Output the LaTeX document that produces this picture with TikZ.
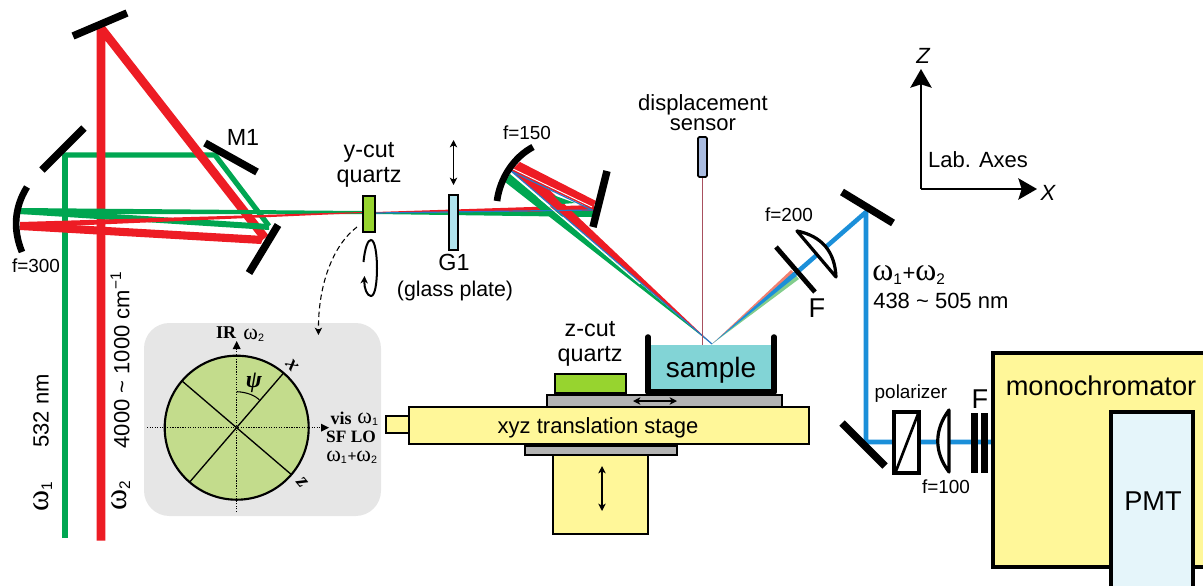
\documentclass[tikz,border=0pt]{standalone}
\usepackage{fontspec}
\setmainfont{Liberation Sans}
\newfontfamily\symfont{Liberation Serif}
\newfontfamily\omfont[Scale=1.45]{Liberation Serif}
\usetikzlibrary{arrows.meta}
\newcommand{\wone}{{\omfont ω}\textsubscript{1}}
\newcommand{\wtwo}{{\omfont ω}\textsubscript{2}}
\begin{document}
\begin{tikzpicture}[x=0.75pt,y=0.75pt,yscale=-1,xscale=1,
  mirror/.style={line width=5.6pt},
  curved/.style={line width=5pt},
  redbeam/.style={color={rgb, 255:red, 237; green, 28; blue, 36 },line width=6.5pt,line join=bevel},
  greenbeam/.style={color={rgb, 255:red, 0; green, 166; blue, 81 },line width=3.9pt},
  bluebeam/.style={color={rgb, 255:red, 27; green, 143; blue, 217 },line width=3.4pt},
  redfill/.style={fill={rgb, 255:red, 237; green, 28; blue, 36 }},
  greenfill/.style={fill={rgb, 255:red, 0; green, 166; blue, 81 }},
  bluefill/.style={fill={rgb, 255:red, 27; green, 143; blue, 217 }},
  thinblue/.style={color={rgb, 255:red, 40; green, 120; blue, 200 },line width=0.9pt},
  yellowbox/.style={draw,line width=1.3pt,fill={rgb, 255:red, 255; green, 247; blue, 153 }},
  greybox/.style={draw,line width=1.3pt,fill={rgb, 255:red, 179; green, 179; blue, 179 }},
  quartzbox/.style={draw,line width=1.6pt,fill={rgb, 255:red, 151; green, 212; blue, 47 }},
  dotaxis/.style={densely dotted,line width=0.9pt},
  smallhead/.style={>={Stealth[length=5.5pt,width=5.5pt,inset=1.5pt]}},
  bighead/.style={>={Stealth[length=14pt,width=16pt,inset=2.5pt]}},
  lbl/.style={inner sep=0.75pt,align=center},
  big/.style={font=\fontsize{20.4}{22}\selectfont},
  mid/.style={font=\fontsize{16.5}{18}\selectfont},
  large/.style={font=\fontsize{17.5}{18.7}\selectfont},
  small/.style={font=\fontsize{14.2}{16}\selectfont},
  inset/.style={font=\fontsize{13.5}{14}\selectfont\symfont\bfseries},
  insetom/.style={font=\fontsize{11.5}{12}\selectfont}
]
\useasboundingbox (0,0) rectangle (1203,586);

%Filled panel behind the wave plate
\draw  [fill={rgb, 255:red, 230; green, 230; blue, 230 },draw=none,rounded corners=19pt] (144,323) rectangle (381,516) ;

%Straight Lines: incoming beams
\draw [greenbeam,line width=5pt]  (65,538) -- (65,155) ;
\draw [greenbeam,line join=bevel]  (63,155) -- (215,155) -- (269,226) ;
\draw [redbeam]  (101,540.5) -- (101,28) -- (265,238) ;
%Beams between the concave mirror and the quartz
\draw [greenfill,draw=none]  (20,208) -- (269,224) -- (269,230) -- (20,214) -- cycle ;
\draw [greenfill,draw=none]  (20,208) -- (362,211) -- (362,214) -- (20,214) -- cycle ;
\draw [redfill,draw=none]  (20,222) -- (362,212) -- (362,213) -- (20,228) -- cycle ;
\draw [redfill,draw=none]  (20,222) -- (264,236) -- (261,244) -- (20,230) -- cycle ;

%Beams from the quartz to the flat mirror
\draw [redfill,draw=none]  (375,212) -- (594,205) -- (594,212) -- (375,213) -- cycle ;
\draw [greenfill,draw=none]  (375,213) -- (594,211) -- (594,217) -- (375,214) -- cycle ;
%Beams from the concave mirror down to the sample
\draw [greenfill,draw=none]  (510,174) -- (712,344) -- (505,182) -- cycle ;
\draw [redfill,draw=none]  (520,162) -- (712,344) -- (511,171) -- cycle ;
%Beams between the flat mirror and the concave mirror
\draw [redfill,draw=none]  (520,162) -- (596,201) -- (592,209) -- (511,171) -- cycle ;
\draw [greenfill,draw=none]  (553,195) -- (575,203) -- (562,204) -- cycle ;
%Thin blue core
\draw [thinblue]  (375,213) -- (592,210) -- (511,171) -- (712,344) ;
\draw [color=white,line width=0.7pt]  (513,169) -- (592,207) ;
\draw [color=white,line width=0.7pt]  (538,197) -- (640,284) ;

%Sensor beam
\draw [color={rgb, 255:red, 168; green, 80; blue, 94 },line width=1.4pt]  (702.5,177) -- (702.5,345) ;
%Beam leaving the sample
\draw [fill={rgb, 255:red, 242; green, 128; blue, 112 },draw=none]  (712,344) -- (791,270) -- (795,274) -- cycle ;
\draw [fill={rgb, 255:red, 130; green, 205; blue, 140 },draw=none]  (712,344) -- (795,274) -- (799,279) -- cycle ;
\draw [bluefill,draw=none]  (712,344) -- (793.5,272) -- (796.5,276) -- cycle ;
\draw [bluebeam]  (795,274) -- (866,212) -- (866,442) -- (993,442) ;

%Flat mirrors
\draw [mirror]  (73,36) -- (127,13) ;
\draw [mirror]  (42,170) -- (84,128) ;
\draw [mirror]  (205,143) -- (257,172) ;
\draw [mirror]  (278,225) -- (249,273) ;
\draw [mirror]  (607,171) -- (593,227) ;
\draw [mirror]  (842,192) -- (893,223) ;
\draw [mirror]  (842,423) -- (885,466) ;
%Concave mirrors
\draw [curved]  (27,187) .. controls (14,208) and (13,230) .. (22,252) ;
\draw [curved]  (533,147) .. controls (514,157) and (500,178) .. (497,201) ;

%Quartz and glass plate
\draw [quartzbox]  (363,196) rectangle (375,232) ;
\draw [draw,line width=1.6pt,fill={rgb, 255:red, 176; green, 228; blue, 238 }]  (449,195) rectangle (458,250) ;
%Arrow above the glass plate
\draw [smallhead,<->,line width=1pt]  (453.5,140) -- (453.5,185) ;
%Rotation arrow
\draw [smallhead,->,line width=1.5pt]  (363.5,262) .. controls (365,247) and (368,240) .. (371,240) .. controls (375,240) and (377,255) .. (377,268) .. controls (377,283) and (375,296) .. (371,296) .. controls (367,296) and (364,288) .. (364.5,276) ;
%Dashed curve to the panel
\draw [smallhead,->,dash pattern={on 4pt off 2.5pt},line width=0.8pt]  (357,227) .. controls (333,245) and (318,285) .. (318.5,335) ;

%Displacement sensor
\draw [draw,line width=1.3pt,fill={rgb, 255:red, 169; green, 187; blue, 224 },rounded corners=1pt]  (698,137) rectangle (707,177) ;

%Sample cell
\draw [fill={rgb, 255:red, 130; green, 212; blue, 214 },draw=none]  (648,345) rectangle (775,392) ;
\draw [line width=4.2pt,line cap=round,line join=round]  (648,337) -- (648,392) -- (774,392) -- (774,337) ;
%z-cut quartz
\draw [quartzbox]  (555,374) rectangle (626,393) ;

%Stage
\draw [yellowbox]  (386,416) rectangle (409,433) ;
\draw [greybox]  (547,395) rectangle (782,407) ;
\draw [yellowbox]  (409,407) rectangle (809,444) ;
\draw [greybox]  (525,446) rectangle (677,455) ;
\draw [yellowbox]  (553,455) rectangle (648,534) ;
\draw [smallhead,<->,line width=1.2pt]  (633,401) -- (677,401) ;
\draw [smallhead,<->,line width=1.8pt]  (602,466) -- (602,511) ;

%Polarizer, lens and filters on the way out
\draw [draw,line width=2.5pt,fill=white]  (894,412) rectangle (919,473) ;
\draw [line width=2pt]  (896,471) -- (918,414) ;
\draw [draw,line width=2.4pt,fill=white,line join=round]  (949,410) .. controls (934,430) and (934,452) .. (949,472) -- cycle ;
\draw [fill=black,draw=none]  (971,413) rectangle (978,473) ;
\draw [fill=black,draw=none]  (981,413) rectangle (988,473) ;
%Lens and filter by the sample
\draw [draw,line width=2.4pt,fill=white,line join=round]  (797,231) -- (836,277) .. controls (835,252) and (822,236) .. cycle ;
\draw [line width=3.6pt]  (776,247) -- (815,292) ;

%Monochromator and PMT
\draw [fill={rgb, 255:red, 255; green, 247; blue, 153 },draw=none]  (993,353) rectangle (1203,567) ;
\draw [line width=2.6pt]  (1203,353) -- (993,353) -- (993,567) -- (1203,567) ;
\draw [draw,line width=2.6pt,fill={rgb, 255:red, 229; green, 245; blue, 250 }]  (1111,586) -- (1111,412) -- (1193,412) -- (1193,586) ;

%Lab axes
\draw [bighead,->,line width=1.5pt]  (921,189) -- (921,69) ;
\draw [bighead,->,line width=1.5pt]  (921,189) -- (1037,189) ;

%Wave plate inset
\draw [line width=1.6pt,fill={rgb, 255:red, 195; green, 220; blue, 140 }]  (236.7,427.7) circle (72) ;
\draw [dotaxis]  (236.7,512) -- (236.7,348) ;
\draw [dotaxis]  (147,427.7) -- (322,427.7) ;
\draw [fill=black,draw=none]  (236.7,341) -- (232.7,349) -- (240.7,349) -- cycle ;
\draw [fill=black,draw=none]  (329,427.7) -- (321,423.7) -- (321,431.7) -- cycle ;
\draw [line width=1pt]  (283.3,373.3) -- (190,481.7) ;
\draw [line width=1pt]  (181.7,380.7) -- (290.7,474) ;
\draw [line width=0.8pt]  (236.7,391.7) .. controls (247,392) and (256,396) .. (259.3,400) ;

% Text Node
\draw (243,137) node [lbl,large] (lblmone) {M1};
\draw (369,165) node [lbl,large] (lblycut) {y-cut\\quartz};
\draw (454,262) node [lbl,large] (lblgone) {G1};
\draw (36,266) node [lbl,small] (lblfthree) {f=300};
\draw (455,291) node [lbl,font=\fontsize{16}{18}\selectfont] (lblglass) {(glass plate)};
\draw (527,133) node [lbl,small] (lblfone) {f=150};
\draw (703,112.5) node [lbl,mid] (lblsensor) {displacement\\[-3pt]sensor};
\draw (590,344) node [lbl,large] (lblzcut) {z-cut\\quartz};
\draw (711,370) node [lbl,font=\fontsize{21}{23}\selectfont] (lblsample) {sample};
\draw (598,428) node [lbl,mid] (lblstage) {xyz translation stage};
\draw (789,215) node [lbl,small] (lblftwo) {f=200};
\draw (817,308) node [lbl,big] (lblfa) {F};
\draw (871,275) node [lbl,mid,anchor=west] (lblsum) {\wone+\wtwo};
\draw (872,301) node [lbl,mid,anchor=west] (lblrange) {438 \textasciitilde\ 505 nm};
\draw (911,394) node [lbl,small] (lblpol) {polarizer};
\draw (946,487) node [lbl,small] (lblfhund) {f=100};
\draw (980,399) node [lbl,big] (lblfb) {F};
\draw (1101,386) node [lbl,big] (lblmono) {monochromator};
\draw (1153,501) node [lbl,big] (lblpmt) {PMT};
\draw (978,160) node [lbl,mid] (lbllab) {Lab. Axes};
\draw (923,55.5) node [lbl,font=\fontsize{16.5}{18}\selectfont\itshape] (lblz) {Z};
\draw (1048,192.5) node [lbl,font=\fontsize{16.5}{18}\selectfont\itshape] (lblx) {X};
\draw (41,411) node [lbl,mid,rotate=90] (lblgreen) {532 nm};
\draw (43,496) node [lbl,mid,rotate=90] (lblwone) {\wone};
\draw (120,360) node [lbl,mid,rotate=90] (lblred) {4000 \textasciitilde\ 1000 cm\textsuperscript{−1}};
\draw (121,495) node [lbl,mid,rotate=90] (lblwtwo) {\wtwo};
% Text Node: inset
\draw (226,333) node [lbl,inset] (lblir) {IR};
\draw (254,335) node [lbl,insetom] (lblirw) {\wtwo};
\draw (341,418) node [lbl,inset] (lblvis) {vis};
\draw (368,419) node [lbl,insetom] (lblvisw) {\wone};
\draw (351,437) node [lbl,inset,font=\fontsize{13}{14}\selectfont\symfont\bfseries] (lblsf) {SF LO};
\draw (352,457) node [lbl,insetom] (lblsfw) {\wone+\wtwo};
\draw (254,383) node [lbl,font=\fontsize{18}{19}\selectfont\symfont\bfseries\itshape] (lblpsi) {ψ};
\draw (292,365) node [lbl,rotate=-50,font=\fontsize{16}{17}\selectfont\symfont\bfseries\itshape] (lblaxx) {x};
\draw (302,483) node [lbl,rotate=-50,font=\fontsize{16}{17}\selectfont\symfont\bfseries\itshape] (lblaxz) {z};
\end{tikzpicture}
\end{document}
